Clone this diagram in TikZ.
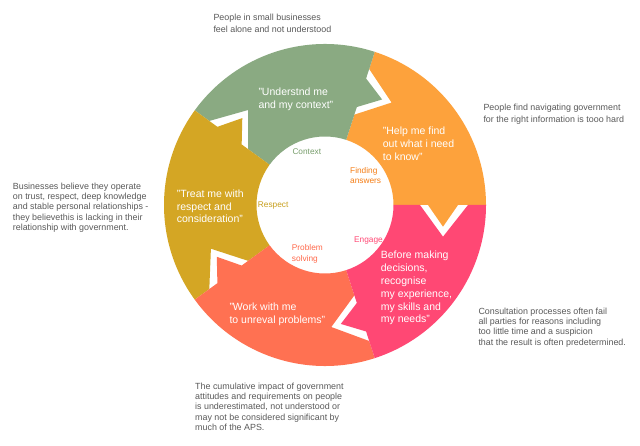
\documentclass[tikz,border=0pt]{standalone}
\usepackage{fontspec}
\setmainfont{Liberation Sans}
\definecolor{cgreen}{RGB}{138,170,130}
\definecolor{corange}{RGB}{253,162,60}
\definecolor{cpink}{RGB}{255,72,116}
\definecolor{cred}{RGB}{255,113,82}
\definecolor{cgold}{RGB}{212,166,36}
\definecolor{cgreenlbl}{RGB}{120,158,108}
\definecolor{corangelbl}{RGB}{245,125,20}
\definecolor{cgoldlbl}{RGB}{200,160,30}
\definecolor{credlbl}{RGB}{255,105,75}
\definecolor{cpinklbl}{RGB}{255,72,116}
\definecolor{cnotetext}{RGB}{90,90,90}
\newcommand\ringseg[2]{%
  \fill[#2, shift={(325,240)}, rotate=#1]
    (0:68.5) -- (0:103) -- (118,-21.7) -- (0:133) -- (0:161)
    arc[start angle=0, end angle=72, radius=161]
    -- (72:143) -- (66.61,102.43) -- (72:95) -- (72:68.5)
    arc[start angle=72, end angle=0, radius=68.5] -- cycle;}
\begin{document}
\begin{tikzpicture}[x=1pt,y=1pt,
  intext/.style={text=white, align=left, anchor=north west, inner sep=0,
    font=\fontsize{10.5}{12.8}\selectfont},
  lbl/.style={text=#1, align=left, anchor=north west, inner sep=0,
    font=\fontsize{8.3}{10.7}\selectfont},
  note/.style={text=cnotetext, align=left, anchor=north west, inner sep=0,
    font=\fontsize{8.9}{10.4}\selectfont},
  notetwo/.style={text=cnotetext, align=left, anchor=north west, inner sep=0,
    font=\fontsize{8.9}{12.7}\selectfont}]
\useasboundingbox (0,0) rectangle (640,445);
\fill[white] (0,0) rectangle (640,445);
% ring segments (clockwise flow)
\ringseg{0}{corange}
\ringseg{72}{cgreen}
\ringseg{144}{cgold}
\ringseg{216}{cred}
\ringseg{288}{cpink}
% texts in segments
\node[intext] (tgreen) at (258.3,357.2) {"Understnd me\\and my context"};
\node[intext] (torange) at (382.7,318.2) {"Help me find\\out what i need\\to know"};
\node[intext] (tgold) at (176.7,255.6) {"Treat me with\\respect and\\consideration"};
\node[intext] (tred) at (229.3,142.2) {"Work with me\\to unreval problems"};
\node[intext] (tpink) at (380.7,193.9) {Before making\\decisions,\\recognise\\my experience,\\my skills and\\my needs"};
% inner labels
\node[lbl=cgreenlbl] (lcontext) at (292.3,296.3) {Context};
\node[lbl=corangelbl] (lfinding) at (350,278) {Finding\\answers};
\node[lbl=cgoldlbl] (lrespect) at (257.7,243) {Respect};
\node[lbl=credlbl] (lproblem) at (291.7,200.3) {Problem\\solving};
\node[lbl=cpinklbl] (lengage) at (354,208) {Engage};
% notes
\node[notetwo] (ntop) at (213.3,431.6) {People in small businesses\\feel alone and not understood};
\node[notetwo] (nright) at (483.3,341.6) {People find navigating government\\for the right information is tooo hard};
\node[note] (nleft) at (12.7,262.6) {Businesses believe they operate\\on trust, respect, deep knowledge\\and stable personal relationships -\\they believethis is lacking in their\\relationship with government.};
\node[note] (nconsult) at (478.3,137.6) {Consultation processes often fail\\all parties for reasons including\\too little time and a suspicion\\that the result is often predetermined.};
\node[note] (nbottom) at (195,62.6) {The cumulative impact of government\\attitudes and requirements on people\\is underestimated, not understood or\\may not be considered significant by\\much of the APS.};
\end{tikzpicture}
\end{document}
